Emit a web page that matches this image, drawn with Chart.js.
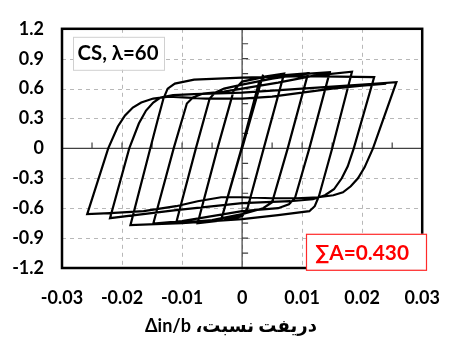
<!DOCTYPE html>
<html>
<head>
<meta charset="utf-8">
<script src="https://cdn.jsdelivr.net/npm/chart.js@4.4.1/dist/chart.umd.min.js"></script>
<style>
  html, body { margin: 0; padding: 0; background: #fff; }
</style>
</head>
<body>
<canvas id="hystChart" width="459" height="343"></canvas>
<script>
/* Hysteresis CS, lambda=60 : drift ratio vs normalised load */
const xTicks = [-0.03, -0.02, -0.01, 0, 0.01, 0.02, 0.03];
const xLabels = ['-0.03', '-0.02', '-0.01', '0', '0.01', '0.02', '0.03'];
const yTicks = [-1.2, -0.9, -0.6, -0.3, 0, 0.3, 0.6, 0.9, 1.2];
const yLabels = ['-1.2', '-0.9', '-0.6', '-0.3', '0', '0.3', '0.6', '0.9', '1.2'];

// x-axis title, pieces in the order they appear from left to right
const titleParts = ['Δin/b', ' ،', 'نسبت', ' ', 'دریفت'];
const caseLabel = 'CS, λ=60';
const energyLabel = '∑A=0.430';

// load path, one branch per line
const drift = [
  0, 0.0035,
  -0.0035,
  -0.0001, 0.0028, 0.0038, 0.007,
  0.0036, 0.0009, 0, -0.003, -0.0074,
  -0.0041, -0.0014, 0, 0.004, 0.011,
  0.0076, 0.005, 0.0035, 0, -0.005, -0.011,
  -0.0077, -0.0054, -0.0045, -0.003, 0, 0.005, 0.01, 0.0146,
  0.0112, 0.0088, 0.0078, 0.006, 0, -0.005, -0.01, -0.0148,
  -0.0114, -0.0092, -0.0082, -0.0065, -0.003, 0, 0.006, 0.012, 0.0183,
  0.015, 0.0128, 0.0121, 0.0112, 0.006, 0, -0.01, -0.0186,
  -0.0153, -0.014, -0.0131, -0.0124, -0.0112, -0.008, 0, 0.01, 0.022,
  0.0186, 0.0176, 0.0166, 0.0153, 0.0138, 0.0118, 0.008, 0, -0.011, -0.022,
  -0.0188, -0.0172, -0.016, -0.0148, -0.0136, -0.0115, -0.008, 0, 0.01, 0.02, 0.0257,
  0.0218, 0.0204, 0.0193, 0.0181, 0.0168, 0.0152, 0.0127, 0.009, 0.005, 0, -0.0035, -0.0074, -0.011, -0.0164, -0.022, -0.0258,
  -0.0223, -0.0207, -0.0195, -0.0182, -0.0168, -0.0148, -0.0122, -0.006, 0, 0.005, 0.01, 0.015, 0.02, 0.024
];
const force = [
  0, 0.74,
  -0.72,
  0, 0.66, 0.72, 0.75,
  0, -0.6, -0.68, -0.72, -0.75,
  0, 0.58, 0.67, 0.72, 0.755,
  0, -0.54, -0.6, -0.66, -0.72, -0.75,
  0, 0.5, 0.56, 0.6, 0.64, 0.7, 0.745, 0.765,
  0, -0.5, -0.56, -0.6, -0.63, -0.68, -0.73, -0.755,
  0, 0.45, 0.51, 0.55, 0.57, 0.6, 0.66, 0.73, 0.77,
  0, -0.48, -0.58, -0.63, -0.67, -0.71, -0.75, -0.77,
  0, 0.3, 0.5, 0.6, 0.65, 0.69, 0.71, 0.725, 0.715,
  0, -0.18, -0.3, -0.41, -0.47, -0.51, -0.53, -0.55, -0.62, -0.7,
  0, 0.25, 0.38, 0.46, 0.51, 0.535, 0.545, 0.56, 0.6, 0.64, 0.665,
  0, -0.19, -0.3, -0.38, -0.44, -0.47, -0.49, -0.5, -0.5, -0.49, -0.49, -0.53, -0.58, -0.63, -0.65, -0.66,
  0, 0.22, 0.33, 0.41, 0.46, 0.5, 0.52, 0.5, 0.5, 0.52, 0.56, 0.6, 0.63, 0.65
];

const points = drift.map((d, i) => ({ x: d, y: force[i] }));

const FONT = "Lato, 'DejaVu Sans', sans-serif";

// font size that makes a text span the given width
function fitFont(ctx, parts, width) {
  ctx.font = 'bold 20px ' + FONT;
  const w = parts.reduce((s, p) => s + ctx.measureText(p).width, 0);
  return 20 * width / w;
}

const framePlugin = {
  id: 'frame',
  beforeDatasetsDraw(chart) {
    const { ctx, chartArea: a, scales: { x, y } } = chart;
    const x0 = x.getPixelForValue(0), y0 = y.getPixelForValue(0);
    ctx.save();
    // dashed grid
    ctx.strokeStyle = '#b8b8b8';
    ctx.lineWidth = 1;
    ctx.setLineDash([4, 4]);
    ctx.beginPath();
    xTicks.forEach(v => {
      const px = Math.round(x.getPixelForValue(v)) + 0.5;
      ctx.moveTo(px, a.top); ctx.lineTo(px, a.bottom);
    });
    yTicks.forEach(v => {
      const py = Math.round(y.getPixelForValue(v)) + 0.5;
      ctx.moveTo(a.left, py); ctx.lineTo(a.right, py);
    });
    ctx.stroke();
    ctx.setLineDash([]);

    // zero axes with minor ticks
    ctx.strokeStyle = '#404040';
    ctx.lineWidth = 1.2;
    ctx.beginPath();
    ctx.moveTo(a.left, y0); ctx.lineTo(a.right, y0);
    ctx.moveTo(x0, a.top); ctx.lineTo(x0, a.bottom);
    for (let k = -5; k <= 5; k++) {
      const px = x.getPixelForValue(k * 0.005);
      ctx.moveTo(px, y0); ctx.lineTo(px, y0 - 6);
    }
    for (let k = -7; k <= 7; k++) {
      const py = y.getPixelForValue(k * 0.15);
      ctx.moveTo(x0, py); ctx.lineTo(x0 + 6, py);
    }
    ctx.stroke();
    ctx.restore();
  },
  afterDraw(chart) {
    const { ctx, chartArea: a } = chart;
    ctx.save();
    ctx.strokeStyle = '#000';
    ctx.lineWidth = 2.5;
    ctx.strokeRect(a.left, a.top, a.right - a.left, a.bottom - a.top);

    // label box top-left
    ctx.fillStyle = '#fff';
    ctx.fillRect(a.left + 11, a.top + 8, 91, 33);
    ctx.strokeStyle = '#d0d0d0';
    ctx.lineWidth = 1;
    ctx.strokeRect(a.left + 11.5, a.top + 8.5, 91, 33);
    ctx.fillStyle = '#000';
    ctx.font = 'bold ' + fitFont(ctx, [caseLabel], 81) + 'px ' + FONT;
    ctx.textBaseline = 'middle';
    ctx.textAlign = 'center';
    ctx.fillText(caseLabel, a.left + 56, a.top + 25);

    // energy box bottom-right
    ctx.fillStyle = '#fff';
    ctx.fillRect(a.left + 244, a.top + 205, 120, 36);
    ctx.strokeStyle = '#ff2a2a';
    ctx.lineWidth = 1.2;
    ctx.strokeRect(a.left + 244.5, a.top + 205.5, 120, 36);
    ctx.fillStyle = '#ff0000';
    ctx.font = 'bold ' + fitFont(ctx, [energyLabel], 94) + 'px ' + FONT;
    ctx.fillText(energyLabel, a.left + 300, a.top + 224);

    // x-axis title, drawn piece by piece so the word order stays as printed
    const size = fitFont(ctx, titleParts, 172);
    ctx.font = 'bold ' + size + 'px ' + FONT;
    ctx.fillStyle = '#000';
    ctx.textAlign = 'left';
    let tx = 145;
    titleParts.forEach(p => {
      ctx.fillText(p, tx, 326);
      tx += ctx.measureText(p).width;
    });
    ctx.restore();
  }
};

new Chart(document.getElementById('hystChart'), {
  type: 'scatter',
  data: {
    datasets: [{
      data: points,
      showLine: true,
      borderColor: '#000',
      borderWidth: 2.2,
      pointRadius: 0,
      tension: 0,
      fill: false
    }]
  },
  options: {
    responsive: false,
    animation: false,
    layout: { padding: { top: 16, right: 23, left: 0, bottom: 0 } },
    plugins: { legend: { display: false }, tooltip: { enabled: false } },
    scales: {
      x: {
        type: 'linear', min: -0.03, max: 0.03,
        afterBuildTicks: s => { s.ticks = xTicks.map(v => ({ value: v })); },
        afterFit: s => { s.height = 75; },
        grid: { drawOnChartArea: false, drawTicks: false },
        border: { display: false },
        ticks: {
          padding: 19, color: '#000',
          font: { family: FONT, size: 18, weight: 'bold' },
          callback: (v, i) => xLabels[i]
        }
      },
      y: {
        type: 'linear', min: -1.2, max: 1.2,
        afterBuildTicks: s => { s.ticks = yTicks.map(v => ({ value: v })); },
        afterFit: s => { s.width = 62; },
        grid: { drawOnChartArea: false, drawTicks: false },
        border: { display: false },
        ticks: {
          padding: 18, color: '#000',
          font: { family: FONT, size: 18, weight: 'bold' },
          callback: (v, i) => yLabels[i]
        }
      }
    }
  },
  plugins: [framePlugin]
});
</script>
</body>
</html>
